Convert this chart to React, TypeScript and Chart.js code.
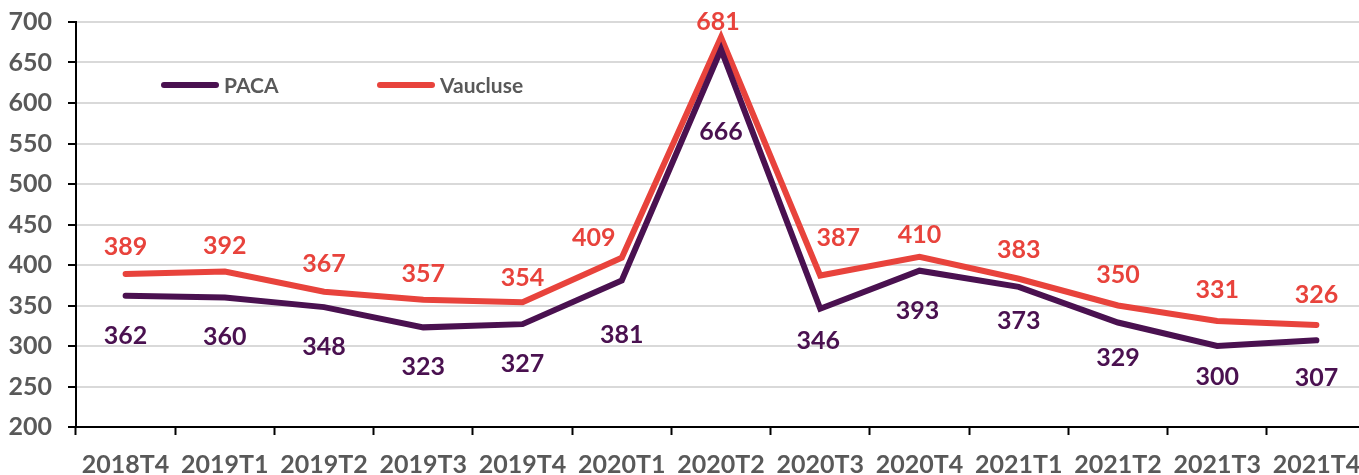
import React, { useEffect, useRef } from "react";
import { Chart, registerables } from "chart.js";

Chart.register(...registerables);

const categories = [
  "2018T4", "2019T1", "2019T2", "2019T3", "2019T4", "2020T1", "2020T2",
  "2020T3", "2020T4", "2021T1", "2021T2", "2021T3", "2021T4",
];
const pacaValues = [362, 360, 348, 323, 327, 381, 666, 346, 393, 373, 329, 300, 307];
const vaucluseValues = [389, 392, 367, 357, 354, 409, 681, 387, 410, 383, 350, 331, 326];
const yTicks = [200, 250, 300, 350, 400, 450, 500, 550, 600, 650, 700];

// label nudges (pixels) for data labels
const pacaLabelDy = [40, 40, 40, 40, 40, 55, 82, 32, 40, 34, 35, 31, 38];
const pacaLabelDx = [0, 0, 0, 0, 0, 0, 0, -2, -2, 0, 0, 0, 0];
const vaucluseLabelDy = [-27, -26, -28, -26, -24, -20, -15, -38, -22, -29, -31, -31, -30];
const vaucluseLabelDx = [0, 0, 0, 0, 0, -28, -3, 18, 0, 0, 0, 0, 0];

const PURPLE = "#4A1150";
const RED = "#E8433C";
const GRAY = "#595959";
const FONT = "Lato, 'Liberation Sans', sans-serif";

export default function App() {
  const ref = useRef<HTMLCanvasElement>(null);
  useEffect(() => {
    if (!ref.current) return;
    const labelPlugin = {
      id: "dataLabels",
      afterDatasetsDraw(chart: any) {
        const ctx = chart.ctx;
        ctx.save();
        ctx.font = `bold 25px ${FONT}`;
        ctx.textAlign = "center";
        ctx.textBaseline = "middle";
        chart.data.datasets.forEach((ds: any, i: number) => {
          const meta = chart.getDatasetMeta(i);
          const dy = i === 0 ? pacaLabelDy : vaucluseLabelDy;
          const dx = i === 0 ? pacaLabelDx : vaucluseLabelDx;
          ctx.fillStyle = ds.borderColor;
          meta.data.forEach((pt: any, j: number) => {
            ctx.fillText(String(ds.data[j]), pt.x + dx[j], pt.y + dy[j]);
          });
        });
        ctx.restore();
      },
    };
    const legendPlugin = {
      id: "inlineLegend",
      afterDraw(chart: any) {
        const ctx = chart.ctx;
        ctx.save();
        ctx.font = `bold 21px ${FONT}`;
        ctx.textBaseline = "middle";
        ctx.textAlign = "left";
        ctx.lineWidth = 6;
        ctx.lineCap = "round";
        const items = [
          { label: "PACA", color: PURPLE, x: 164 },
          { label: "Vaucluse", color: RED, x: 380 },
        ];
        items.forEach((it) => {
          ctx.strokeStyle = it.color;
          ctx.beginPath();
          ctx.moveTo(it.x, 85);
          ctx.lineTo(it.x + 52, 85);
          ctx.stroke();
          ctx.fillStyle = GRAY;
          ctx.fillText(it.label, it.x + 60, 86);
        });
        ctx.restore();
      },
    };
    const chart = new Chart(ref.current, {
      type: "line",
      data: {
        labels: categories,
        datasets: [
          {
            label: "PACA",
            data: pacaValues,
            borderColor: PURPLE,
            backgroundColor: PURPLE,
            borderWidth: 6,
            pointRadius: 0,
            tension: 0,
            borderJoinStyle: "miter",
            borderCapStyle: "round",
          },
          {
            label: "Vaucluse",
            data: vaucluseValues,
            borderColor: RED,
            backgroundColor: RED,
            borderWidth: 6,
            pointRadius: 0,
            tension: 0,
            borderJoinStyle: "miter",
            borderCapStyle: "round",
          },
        ],
      },
      options: {
        animation: false,
        responsive: false,
        maintainAspectRatio: false,
        layout: { padding: { top: 22, right: 0, bottom: 0, left: 0 } },
        plugins: {
          legend: { display: false },
          tooltip: { enabled: false },
        },
        scales: {
          x: {
            offset: true,
            afterFit(scale: any) {
              scale.height = 48;
              scale.paddingLeft = 0;
              scale.paddingRight = 0;
            },
            grid: {
              offset: true,
              drawOnChartArea: false,
              drawTicks: true,
              tickLength: 8,
              tickColor: "#000",
              tickWidth: 2,
            },
            border: { color: "#000", width: 2 },
            ticks: {
              color: GRAY,
              font: { family: FONT, size: 25, weight: "bold" },
              padding: 15,
              maxRotation: 0,
              autoSkip: false,
            },
          },
          y: {
            min: 200,
            max: 700,
            afterBuildTicks(scale: any) {
              scale.ticks = yTicks.map((v) => ({ value: v }));
            },
            afterFit(scale: any) {
              scale.width = 76;
              scale.paddingTop = 0;
              scale.paddingBottom = 0;
            },
            grid: {
              color: "#D9D9D9",
              lineWidth: 2,
              tickLength: 8,
              tickColor: "#000",
              tickWidth: 2,
            },
            border: { color: "#000", width: 2 },
            ticks: {
              color: GRAY,
              font: { family: FONT, size: 25, weight: "bold" },
              padding: 16,
            },
          },
        },
      },
      plugins: [labelPlugin, legendPlugin],
    });
    return () => chart.destroy();
  }, []);
  return (
    <div style={{ position: "fixed", left: 0, top: 0, width: 1359, height: 475, overflow: "hidden", background: "#fff" }}>
      <canvas ref={ref} width={1366} height={475} style={{ display: "block", width: 1366, height: 475 }} />
    </div>
  );
}
